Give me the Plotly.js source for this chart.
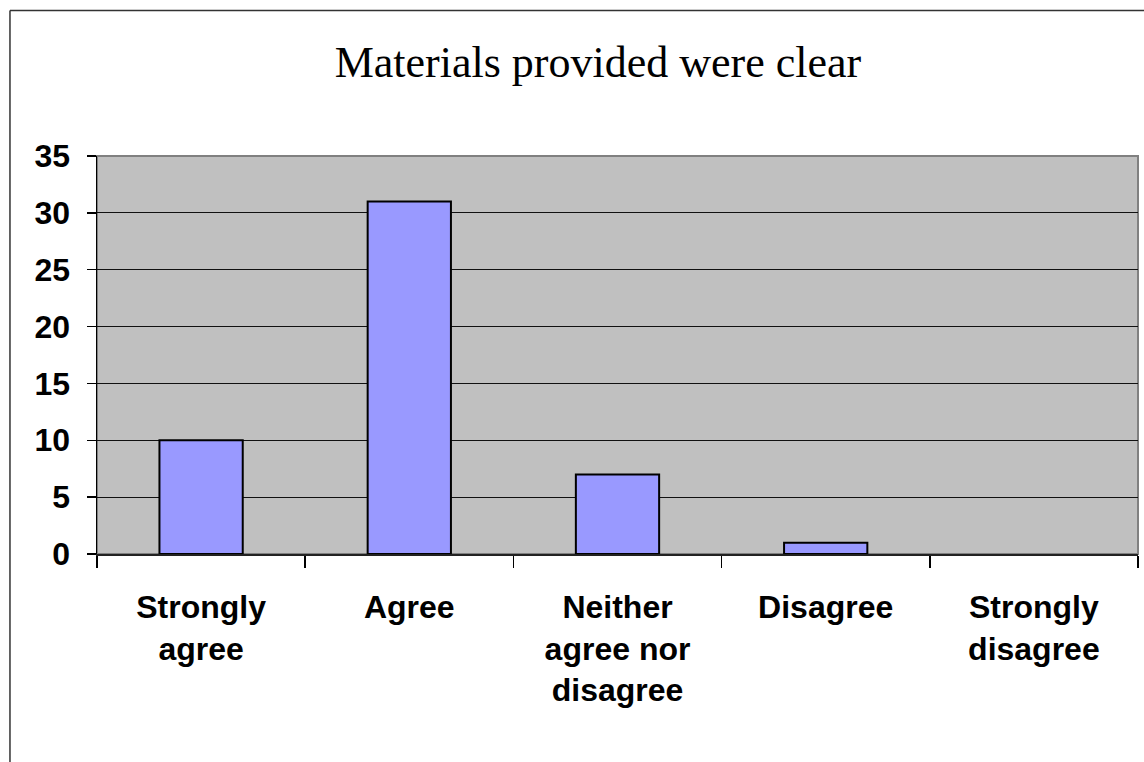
<!DOCTYPE html>
<html>
<head>
<meta charset="utf-8">
<script src="https://cdn.plot.ly/plotly-3.0.1.min.js"></script>
<style>
html,body{margin:0;padding:0;background:#fff;}
#chart{width:1144px;height:762px;}
</style>
</head>
<body>
<div id="chart"></div>
<script>
const categories = ["Strongly<br>agree", "Agree", "Neither<br>agree nor<br>disagree", "Disagree", "Strongly<br>disagree"];
const counts = [10, 31, 7, 1, 0];
const yTickValues = [0, 5, 10, 15, 20, 25, 30, 35];
const chartTitle = "Materials provided were clear";

const trace = {
  type: "bar",
  x: categories,
  y: counts,
  marker: {color: "#9999FF", line: {color: "#000000", width: counts.map(v => v > 0 ? 2 : 0)}},
  hoverinfo: "x+y"
};

const layout = {
  width: 1144,
  height: 762,
  margin: {l: 97, r: 6, t: 156, b: 208, pad: 0},
  paper_bgcolor: "#ffffff",
  plot_bgcolor: "#C0C0C0",
  bargap: 0.6,
  showlegend: false,
  title: {
    text: chartTitle,
    font: {family: "Liberation Serif, Times New Roman, serif", size: 44, color: "#000"},
    x: 0.5227, xref: "container", xanchor: "center",
    y: 1 - 62/762, yref: "container", yanchor: "middle"
  },
  xaxis: {
    type: "category",
    tickson: "boundaries",
    ticks: "outside",
    ticklen: 12,
    tickwidth: 1.5,
    tickcolor: "#000",
    showline: true,
    linecolor: "#222",
    linewidth: 1.5,
    showgrid: false,
    zeroline: false,
    ticklabelstandoff: 24,
    tickfont: {family: "Liberation Sans, Arial, sans-serif", size: 32, color: "#000", weight: "bold"}
  },
  yaxis: {
    range: [0, 35],
    tickvals: yTickValues,
    ticktext: yTickValues.map(String),
    ticks: "outside",
    ticklen: 9,
    tickwidth: 1.5,
    tickcolor: "#000",
    showline: true,
    linecolor: "#000",
    linewidth: 1.5,
    showgrid: true,
    gridcolor: "#111",
    gridwidth: 1.2,
    zeroline: false,
    ticklabelstandoff: 10,
    tickfont: {family: "Liberation Sans, Arial, sans-serif", size: 32, color: "#000", weight: "bold"}
  },
  shapes: [
    {type: "rect", xref: "paper", yref: "paper", x0: 0, x1: 1, y0: 0, y1: 1,
     line: {color: "#808080", width: 2}, fillcolor: "rgba(0,0,0,0)", layer: "below"},
    {type: "line", xref: "paper", yref: "paper", x0: -0.0836, x1: -0.0836, y0: -0.6, y1: 1.3656,
     line: {color: "#333", width: 1.5}},
    {type: "line", xref: "paper", yref: "paper", x0: -0.0836, x1: 1.2, y0: 1.3656, y1: 1.3656,
     line: {color: "#333", width: 1.5}}
  ]
};

Plotly.newPlot("chart", [trace], layout, {displayModeBar: false, staticPlot: true});
</script>
</body>
</html>
